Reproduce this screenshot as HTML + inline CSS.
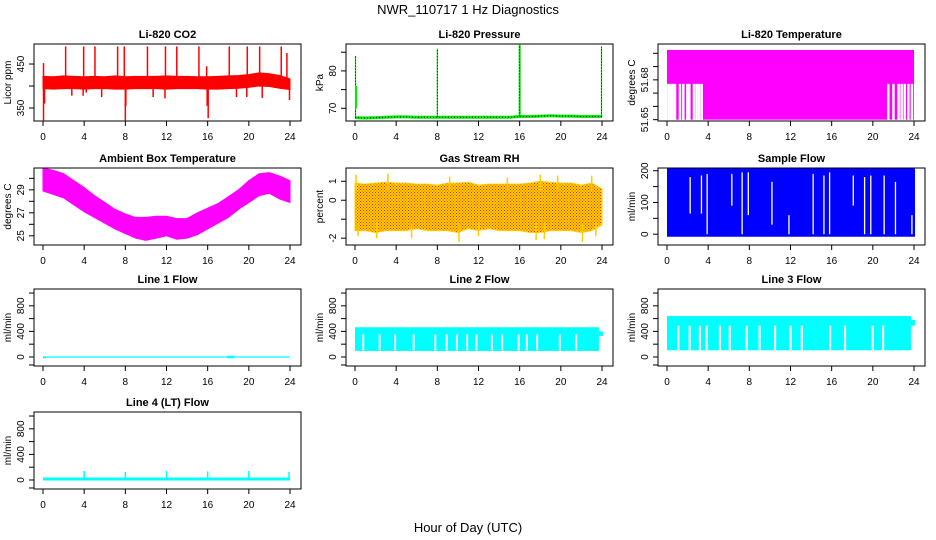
<!DOCTYPE html>
<html><head><meta charset="utf-8"><style>
html,body{margin:0;padding:0;background:#fff;}
svg{display:block;font-family:"Liberation Sans",sans-serif;}
</style></head><body>
<svg id="chart" width="936" height="540" viewBox="0 0 936 540" xmlns="http://www.w3.org/2000/svg">
<defs>
<pattern id="rhpat" width="3" height="3" patternUnits="userSpaceOnUse">
<rect width="3" height="3" fill="#ffd400"/><rect x="0" y="0" width="1" height="1" fill="#ff2000"/><rect x="1.5" y="1.5" width="1" height="1" fill="#ff2000"/>
</pattern>
</defs>
<text x="468" y="14" text-anchor="middle" font-size="13">NWR_110717  1 Hz Diagnostics</text>
<text x="468" y="532" text-anchor="middle" font-size="13">Hour of Day (UTC)</text>
</svg>
<script>
// ---- data ----
const hours = [0,1,2,3,4,5,6,7,8,9,10,11,12,13,14,15,16,17,18,19,20,21,22,23,24];
const xTicks = [0,4,8,12,16,20,24];
const co2Lo = [394,393,394,394,393,394,394,393,393,394,394,394,393,394,394,394,393,393,394,395,397,400,399,395,392];
const co2Hi = [422,421,423,422,421,422,421,423,421,422,422,422,423,422,422,421,421,422,423,424,426,430,428,424,416];
const co2UpT = [0.05,2.2,3.95,5.05,7.25,7.9,10.15,11.9,13.0,15.15,15.9,18.1,19.85,21.05,23.15,23.7];
const co2UpV = [452,490,490,490,490,490,490,490,490,490,445,490,490,490,490,475];
const co2DnT = [0.05,0.15,2.8,3.9,4.2,5.7,8.0,8.05,10.7,11.85,16.05,15.95,18.8,19.8,21.3,23.95];
const co2DnV = [322,360,378,378,385,375,322,355,375,372,327,355,375,375,373,368];
const presBase = [67.5,67.4,67.5,67.6,67.7,67.7,67.6,67.6,67.6,67.6,67.6,67.6,67.6,67.6,67.6,67.6,67.8,67.8,67.9,68.0,67.9,67.9,67.8,67.8,67.8];
const presSpikeT = [0.05,8.0,16.0,23.95];
const presSpikeV = [84.0,86.0,87.0,86.5];
const tempTop = 51.7025, tempMid = 51.677, tempBot = 51.65;
const tempGapT = [0.13,0.32,0.55,0.78,1.26,1.59,1.98,2.17,2.62,2.88,3.11,3.37,21.5,22.0,22.5,22.8,23.1,23.45,23.8];
const ambHi = [30.9,30.7,30.4,29.8,29.2,28.5,27.9,27.3,26.9,26.6,26.6,26.7,26.7,26.5,26.5,27.0,27.4,27.8,28.4,29.0,29.8,30.4,30.5,30.2,29.8];
const ambLo = [28.9,28.6,28.3,27.7,27.1,26.6,26.1,25.6,25.2,24.8,24.6,24.8,25.0,24.7,24.8,25.1,25.6,26.1,26.6,27.3,27.9,28.5,28.7,28.2,27.9];
const rhHi = [0.9,0.85,0.9,0.95,0.9,0.9,0.85,0.85,0.8,0.9,0.9,0.95,0.8,0.85,0.85,0.85,0.85,0.9,1.0,0.95,0.9,0.9,0.8,0.9,0.6];
const rhLo = [-1.6,-1.6,-1.7,-1.6,-1.6,-1.6,-1.5,-1.6,-1.6,-1.6,-1.7,-1.5,-1.6,-1.5,-1.6,-1.6,-1.6,-1.7,-1.7,-1.6,-1.6,-1.6,-1.7,-1.6,-1.3];
const rhSpikeT = [0.1,0.3,2.1,3.2,5.5,9.2,10.1,12.0,14.8,17.6,18.0,18.4,19.7,22.1,23.0,23.4];
const rhSpikeV = [1.35,-1.9,-2.0,1.4,-2.0,1.25,-2.2,-1.9,1.2,-2.1,1.35,-2.05,1.3,-2.2,1.3,-1.9];
const sfLo = -8, sfHi = 208;
const sfGapT = [2.25,3.35,3.9,6.3,7.3,7.9,10.2,11.85,14.2,15.25,15.8,18.1,19.2,19.8,21.1,22.2,23.8];
const sfGapLo = [65,65,0,90,0,60,30,0,0,0,0,90,0,0,0,0,0];
const sfGapHi = [180,185,190,190,195,195,165,60,190,185,195,185,180,185,185,165,60];
const l1Val = 0;
const l2Lo = 95, l2Hi = 465;
const l2GapT = [0.8,2.4,3.9,5.7,7.8,8.9,9.9,10.9,11.8,13.3,14.3,15.9,16.7,17.7,19.9,21.5];
const l3Lo = 105, l3Hi = 640;
const l3GapT = [1.1,2.2,3.2,3.85,5.15,6.1,7.75,9.0,10.5,12.0,13.1,15.85,17.3,20.0,21.0];
const l4Val = 15;
const l4SpikeT = [4,8,12,16,20,23.9];
const l4SpikeV = [140,125,140,135,140,125];

// ---- helpers ----
const NS = "http://www.w3.org/2000/svg";
const svg = document.getElementById('chart');
function mk(tag, attrs, parent){ const e=document.createElementNS(NS,tag); for(const k in attrs) e.setAttribute(k,attrs[k]); (parent||svg).appendChild(e); return e; }
const colX = [34,346,658], rowY = [44,168,289,412], W = 267, H = 77;

function panel(name, col, row, title, ylab, ymin, ymax, yticks, ylabels){
  const bx = colX[col], by = rowY[row];
  const g = mk('g', {});
  
  
  const P = {g, bx, by,
    x: h => bx + 9 + h * 247 / 24,
    y: v => by + H - (v - ymin) / (ymax - ymin) * H};
  P.data = mk('g', {}, g);
  
  
  const clip = mk('clipPath', {id: 'clip-' + name}, g);
  mk('rect', {x: bx, y: by, width: W, height: H}, clip);
  P.data.setAttribute('clip-path', 'url(#clip-' + name + ')');
  setTimeout(() => {
    const box = mk('rect', {x: bx, y: by, width: W, height: H, fill: 'none', stroke: '#000', 'stroke-width': 1}, g);
    
    
    const t = mk('text', {x: bx + W / 2, y: by - 6, 'text-anchor': 'middle', 'font-size': 11, 'font-weight': 'bold'}, g);
    t.textContent = title;
    
    
    const xa = mk('g', {}, g);
    
    
    mk('line', {x1: P.x(0), x2: P.x(24), y1: by + H, y2: by + H, stroke: '#000'}, xa);
    xTicks.forEach(h => {
      mk('line', {x1: P.x(h), x2: P.x(h), y1: by + H, y2: by + H + 5, stroke: '#000'}, xa);
      const tl = mk('text', {x: P.x(h), y: by + H + 19, 'text-anchor': 'middle', 'font-size': 10}, xa);
      tl.textContent = h;
    });
    const ya = mk('g', {}, g);
    
    
    yticks.forEach((v, i) => {
      mk('line', {x1: bx - 5, x2: bx, y1: P.y(v), y2: P.y(v), stroke: '#000'}, ya);
      if (ylabels[i] !== '') {
        const lx = bx - 10, ly = P.y(v);
        const tl = mk('text', {x: lx, y: ly, 'text-anchor': 'middle', 'font-size': 10, transform: `rotate(-90 ${lx} ${ly})`}, ya);
        tl.textContent = ylabels[i];
      }
    });
    const lx = bx - 23, ly = by + H / 2;
    const yl = mk('text', {x: lx, y: ly, 'text-anchor': 'middle', 'font-size': 10, transform: `rotate(-90 ${lx} ${ly})`}, g);
    yl.textContent = ylab;
    
    
  }, 0);
  return P;
}
function band(P, lo, hi, fill){
  let pts = hours.map((h, i) => P.x(h) + ',' + P.y(hi[i]));
  pts = pts.concat(hours.slice().reverse().map((h, j) => { const i = hours.length - 1 - j; return P.x(h) + ',' + P.y(lo[i]); }));
  const p = mk('polygon', {points: pts.join(' '), fill: fill, stroke: fill, 'stroke-width': 1}, P.data);
  return p;
}
function vline(P, t, v1, v2, color, w, dash){
  const a = {x1: P.x(t), x2: P.x(t), y1: P.y(v1), y2: P.y(v2), stroke: color, 'stroke-width': w};
  if (dash) a['stroke-dasharray'] = dash;
  return mk('line', a, P.data);
}
function rectB(P, t0, t1, v0, v1, color){
  return mk('rect', {x: P.x(t0), y: P.y(v1), width: P.x(t1) - P.x(t0), height: P.y(v0) - P.y(v1), fill: color}, P.data);
}
const flowTicks = [-125,0,200,400,600,800,1000], flowLabels = ['', '0','','400','','800',''];

// CO2
const pCo2 = panel('co2', 0, 0, 'Li-820 CO2', 'Licor ppm', 320.5, 495.5, [350,400,450], ['350','','450']);
band(pCo2, co2Lo, co2Hi, '#ff0000');
co2UpT.forEach((t, i) => vline(pCo2, t, 410, co2UpV[i], '#ff0000', 1.5));
co2DnT.forEach((t, i) => vline(pCo2, t, 400, co2DnV[i], '#ff0000', 1.5));

// Pressure
const pPres = panel('pressure', 1, 0, 'Li-820 Pressure', 'kPa', 66.6, 87.2, [70,75,80,85], ['70','','80','']);
let pp = hours.map((h, i) => pPres.x(h) + ',' + pPres.y(presBase[i])).join(' ');
mk('polyline', {points: pp, fill: 'none', stroke: '#00ee00', 'stroke-width': 3}, pPres.data);
mk('polyline', {points: pp, fill: 'none', stroke: '#000', 'stroke-width': 1, 'stroke-dasharray': '1,2'}, pPres.data);
presSpikeT.forEach((t, i) => {
  vline(pPres, t, presBase[Math.round(t)], presSpikeV[i], '#00ee00', i === 2 ? 2 : 1.2);
  vline(pPres, t, presBase[Math.round(t)], presSpikeV[i], '#000', 1, '1,2');
});
vline(pPres, 0.1, 70, 76, '#00ee00', 2);

// Li-820 Temperature
const pTemp = panel('li820-temp', 2, 0, 'Li-820 Temperature', 'degrees C', 51.649, 51.707, [51.65,51.66,51.67,51.68,51.69,51.70], ['51.65','','','51.68','','']);
rectB(pTemp, 0, 24, tempBot, tempTop, '#ff00ff');
tempGapT.forEach(t => vline(pTemp, t, tempBot - 0.002, tempMid, '#ffffff', 2.5));

// Ambient
const pAmb = panel('ambient-temp', 0, 1, 'Ambient Box Temperature', 'degrees C', 24.2, 30.9, [25,26,27,28,29,30], ['25','','27','','29','']);
band(pAmb, ambLo, ambHi, '#ff00ff');

// RH
const pRh = panel('gas-rh', 1, 1, 'Gas Stream RH', 'percent', -2.36, 1.7, [-2,-1,0,1], ['-2','','0','1']);
band(pRh, rhLo, rhHi, 'url(#rhpat)').setAttribute('stroke', '#ffcc00');
rhSpikeT.forEach((t, i) => vline(pRh, t, rhSpikeV[i] > 0 ? 0.5 : -1.2, rhSpikeV[i], '#ffcc00', 1.5));

// Sample flow
const pSf = panel('sample-flow', 2, 1, 'Sample Flow', 'ml/min', -34, 208.6, [0,50,100,150,200], ['0','','100','','200']);
rectB(pSf, 0, 24.1, sfLo, sfHi, '#0000ff');
sfGapT.forEach((t, i) => vline(pSf, t, sfGapLo[i], sfGapHi[i], '#ffffff', 1.3));

// Line 1
const pL1 = panel('line1-flow', 0, 2, 'Line 1 Flow', 'ml/min', -141, 1063, flowTicks, flowLabels);
mk('line', {x1: pL1.x(0), x2: pL1.x(24), y1: pL1.y(l1Val), y2: pL1.y(l1Val), stroke: '#00ffff', 'stroke-width': 1.3}, pL1.data);
rectB(pL1, 17.9, 18.5, -20, 20, '#00ffff');
rectB(pL1, 0, 0.3, -20, 10, '#00ffff');

// Line 2
const pL2 = panel('line2-flow', 1, 2, 'Line 2 Flow', 'ml/min', -141, 1063, flowTicks, flowLabels);
rectB(pL2, 0, 23.7, l2Lo, l2Hi, '#00ffff');
rectB(pL2, 23.7, 24.1, 330, 400, '#00ffff');
l2GapT.forEach(t => vline(pL2, t, l2Lo + 10, l2Hi - 110, '#ffffff', 2));

// Line 3
const pL3 = panel('line3-flow', 2, 2, 'Line 3 Flow', 'ml/min', -141, 1063, flowTicks, flowLabels);
rectB(pL3, 0, 23.7, l3Lo, l3Hi, '#00ffff');
rectB(pL3, 23.7, 24.1, 490, 580, '#00ffff');
l3GapT.forEach(t => vline(pL3, t, l3Lo + 5, l3Hi - 150, '#ffffff', 2.2));

// Line 4
const pL4 = panel('line4-flow', 0, 3, 'Line 4 (LT) Flow', 'ml/min', -141, 1063, flowTicks, flowLabels);
mk('line', {x1: pL4.x(0), x2: pL4.x(24), y1: pL4.y(l4Val), y2: pL4.y(l4Val), stroke: '#00ffff', 'stroke-width': 3}, pL4.data);
l4SpikeT.forEach((t, i) => vline(pL4, t, l4Val, l4SpikeV[i], '#00ffff', 1.5));
</script>
</body></html>
